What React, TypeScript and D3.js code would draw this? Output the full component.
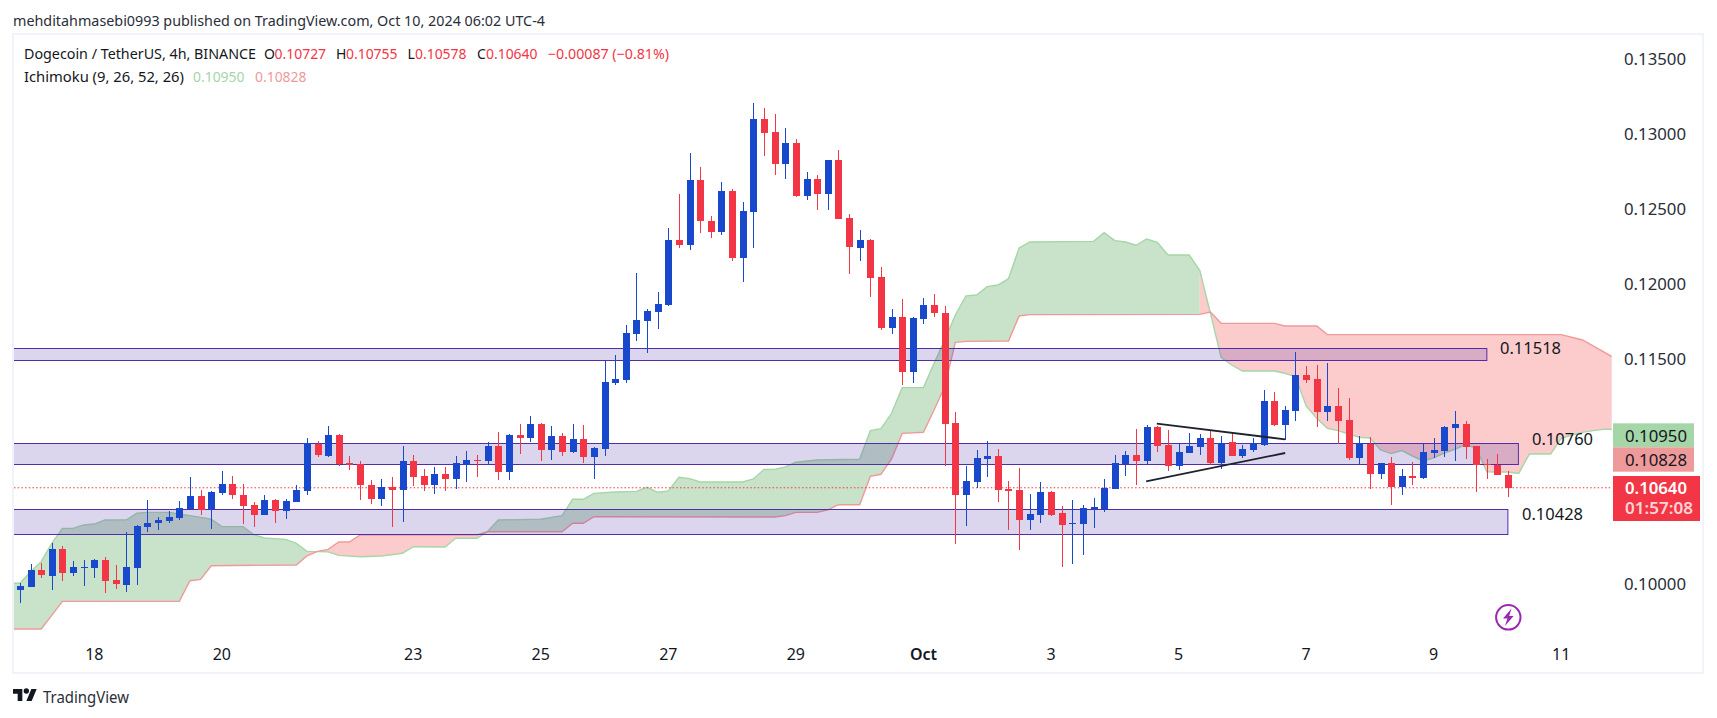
import React from "react";
import * as d3 from "d3";

// ---- candles (BINANCE DOGEUSDT, 4h) ----
const opens = [.09958,.09978,.10091,.10051,.10232,.10071,.10107,.10105,.10158,.10025,.09991,.10105,.10378,.10405,.10418,.10438,.10496,.10585,.10496,.10605,.10665,.10592,.10525,.10458,.10558,.10485,.10545,.10619,.10932,.10852,.10992,.10805,.10796,.10659,.10565,.10645,.10625,.10819,.10719,.10659,.10732,.10699,.10792,.10825,.10819,.10919,.10745,.10992,.10972,.11066,.10892,.10985,.10879,.10965,.10845,.10899,.11339,.11359,.11666,.11753,.11813,.11860,.12293,.12260,.12693,.12420,.12347,.12620,.12173,.12480,.13100,.13014,.12800,.12940,.12587,.12700,.12600,.12827,.12440,.12240,.12293,.12046,.11706,.11779,.11412,.11766,.11860,.11806,.11072,.10592,.10679,.10832,.10852,.10632,.10625,.10425,.10458,.10612,.10472,.10398,.10398,.10498,.10498,.10632,.10799,.10859,.10819,.11045,.10925,.10785,.10872,.10912,.10972,.10805,.10945,.10852,.10892,.10925,.11219,.11059,.11152,.11392,.11366,.11146,.11186,.11092,.10839,.10932,.10732,.10805,.10645,.10719,.10705,.10872,.10885,.11039,.11065,.10919,.10799,.10792,.10727];
const highs = [.10005,.10131,.10138,.10272,.10252,.10151,.10158,.10165,.10178,.10125,.10345,.10392,.10558,.10445,.10485,.10552,.10712,.10625,.10619,.10752,.10719,.10665,.10545,.10592,.10565,.10565,.10659,.10972,.10952,.11052,.10999,.10852,.10819,.10692,.10699,.10712,.10919,.10859,.10765,.10779,.10779,.10852,.10885,.10859,.10945,.11012,.10999,.11066,.11119,.11072,.11052,.11005,.11066,.11059,.10912,.11488,.11526,.11726,.12073,.11833,.11946,.12373,.12600,.12874,.12780,.12453,.12680,.12633,.12547,.13207,.13174,.13134,.13040,.12967,.12747,.12727,.12827,.12894,.12467,.12360,.12300,.12113,.11833,.11900,.11779,.11906,.11933,.11853,.11146,.10785,.10892,.10952,.10899,.10685,.10772,.10599,.10679,.10619,.10518,.10558,.10525,.10572,.10699,.10859,.10885,.11032,.11059,.11052,.11026,.10932,.11005,.10999,.11026,.10985,.11010,.10925,.10972,.11292,.11279,.11186,.11546,.11452,.11459,.11473,.11306,.11239,.10985,.10979,.10805,.10845,.10765,.10812,.10932,.10972,.11052,.11152,.11085,.10919,.10832,.10865,.10755];
const lows = [.09874,.09978,.10040,.09958,.10018,.10051,.09985,.10038,.09938,.09965,.09945,.09991,.10345,.10358,.10405,.10425,.10496,.10458,.10365,.10592,.10565,.10398,.10378,.10458,.10405,.10432,.10545,.10592,.10845,.10845,.10785,.10759,.10558,.10532,.10518,.10378,.10412,.10652,.10619,.10599,.10619,.10632,.10679,.10712,.10792,.10692,.10692,.10865,.10945,.10819,.10825,.10852,.10872,.10805,.10699,.10852,.11326,.11339,.11619,.11539,.11699,.11853,.12240,.12226,.12340,.12307,.12327,.12153,.12013,.12240,.12854,.12727,.12700,.12580,.12560,.12493,.12493,.12433,.12066,.12153,.11913,.11693,.11666,.11326,.11339,.11733,.11779,.10785,.10265,.10385,.10639,.10712,.10545,.10358,.10225,.10358,.10405,.10452,.10112,.10132,.10192,.10372,.10478,.10632,.10719,.10659,.10799,.10879,.10752,.10759,.10872,.10859,.10792,.10765,.10852,.10839,.10879,.10919,.11052,.10959,.11086,.11339,.11045,.11086,.10932,.10825,.10799,.10632,.10699,.10525,.10592,.10659,.10699,.10839,.10845,.10819,.10832,.10612,.10699,.10725,.10578];
const closes = [.09985,.10091,.10058,.10232,.10071,.10111,.10111,.10158,.10018,.09998,.10111,.10385,.10405,.10425,.10445,.10505,.10585,.10492,.10612,.10665,.10592,.10518,.10458,.10558,.10485,.10552,.10625,.10937,.10859,.10992,.10796,.10792,.10659,.10565,.10645,.10625,.10819,.10712,.10659,.10732,.10699,.10805,.10825,.10819,.10919,.10745,.10992,.10972,.11066,.10892,.10985,.10879,.10965,.10845,.10905,.11346,.11366,.11673,.11759,.11820,.11866,.12293,.12260,.12693,.12420,.12347,.12620,.12173,.12487,.13100,.13007,.12800,.12940,.12587,.12700,.12600,.12827,.12433,.12246,.12293,.12040,.11706,.11779,.11412,.11773,.11860,.11806,.11066,.10592,.10685,.10839,.10852,.10625,.10619,.10425,.10465,.10612,.10458,.10392,.10405,.10505,.10512,.10639,.10805,.10859,.10819,.11045,.10919,.10785,.10879,.10919,.10972,.10805,.10939,.10852,.10899,.10939,.11219,.11059,.11159,.11392,.11359,.11146,.11186,.11086,.10839,.10939,.10732,.10805,.10645,.10719,.10705,.10879,.10892,.11045,.11065,.10912,.10792,.10792,.10725,.10640];

// ---- Ichimoku cloud: [bar index] and leading span values ----
const spanABars = [-1,0,1,2,3,4,5,6,7,8,10,11,12,14,15,16,18,19,21,22,23,25,26,27,29,30,32,34,36,37,40,41,43,44,45,49,51,52,53,54,56,58,59,60,61,62,63,64,68,69,70,71,72,73,75,79,80,81,82,83,85,86,87,88,89,90,91,92,93,94,95,101,102,103,104,105,106,107,108,110,111,112,113,114,115,118,119,120,121,122,123,124,125,126,127,128,129,130,131,132,133,134,135,136,137,138,139,140,141,142,144,145,146,147,148,149,150];
const spanAValues = [.10003,.10003,.10080,.10147,.10269,.10369,.10369,.10392,.10398,.10425,.10425,.10470,.10476,.10476,.10465,.10454,.10430,.10381,.10381,.10327,.10305,.10296,.10269,.10216,.10212,.10189,.10180,.10185,.10203,.10247,.10245,.10303,.10303,.10348,.10425,.10430,.10454,.10563,.10563,.10603,.10612,.10616,.10643,.10610,.10619,.10710,.10701,.10679,.10679,.10699,.10763,.10763,.10779,.10810,.10825,.10830,.11021,.11034,.11137,.11308,.11308,.11470,.11626,.11793,.11920,.11926,.11982,.11993,.12035,.12240,.12280,.12284,.12342,.12289,.12280,.12258,.12300,.12278,.12193,.12193,.12089,.11804,.11510,.11459,.11419,.11419,.11404,.11381,.11186,.11103,.11037,.11021,.10999,.10977,.10972,.10892,.10868,.10888,.10852,.10819,.10839,.10872,.10897,.10928,.10903,.10747,.10745,.10745,.10736,.10865,.10865,.10970,.10992,.11010,.11021,.11030,.11030];
const spanBBars = [-1,2,3,4,15,16,17,18,26,27,28,29,30,31,32,43,44,51,52,53,54,71,72,73,75,76,77,79,80,81,82,83,85,86,87,88,89,93,94,95,111,112,113,118,119,122,123,145,147,150];
const spanBValues = [.09698,.09698,.09789,.09882,.09882,.10020,.10029,.10120,.10125,.10185,.10216,.10229,.10278,.10278,.10325,.10325,.10347,.10347,.10403,.10403,.10447,.10445,.10454,.10476,.10476,.10492,.10527,.10527,.10716,.10730,.10832,.11003,.11010,.11159,.11315,.11610,.11617,.11619,.11786,.11795,.11797,.11813,.11737,.11737,.11719,.11719,.11662,.11662,.11626,.11506];

// ---- drawn annotations ----
const bandBars = [-2, -2, -2];
const bandEnds = [138.0, 140.97, 139.98];
const bandTops = [.11571, .10937, .10496];
const bandBottoms = [.11490, .10797, .10327];
const trendBars = [[106.95, 119.03], [105.95, 119.03]];
const trendPrices = [[.11068, .10963], [.10683, .10872]];

// ---- axes ----
const priceTicks = [.135, .13, .125, .12, .115, .10];
const dateTickBars = [7, 19, 37, 49, 61, 73, 85, 97, 109, 121, 133, 145];
const dateTickLabels = ["18", "20", "23", "25", "27", "29", "Oct", "3", "5", "7", "9", "11"];
const lastPrice = .1064;

const BLUE = "#1848cc";
const RED = "#f23645";
const FONT = "'Noto Sans', sans-serif";
const INK = "#131722";

const x = d3.scaleLinear().domain([0, 140]).range([19.9, 1508.1]);
const y = d3.scaleLinear().domain([0.1, 0.135]).range([583.7, 59.1]);
const fmt = d3.format(".5f");

function Txt(p: any) {
  const { w, children, size = 14, fill = INK, anchor = "start", ...rest } = p;
  return (
    <text fontFamily={FONT} fontSize={size} fill={fill} textAnchor={anchor} dominantBaseline="central"
      textLength={w} lengthAdjust={w ? "spacingAndGlyphs" : undefined} {...rest}>
      {children}
    </text>
  );
}

export default function App() {
  const spanA = d3.scaleLinear().domain(spanABars).range(spanAValues);
  const spanB = d3.scaleLinear().domain(spanBBars).range(spanBValues);
  const bars = Array.from(new Set([...spanABars, ...spanBBars])).sort((a, b) => a - b);

  const cloudCells = d3.pairs(bars).map(([b0, b1]) => {
    const a0 = y(spanA(b0)), a1 = y(spanA(b1)), s0 = y(spanB(b0)), s1 = y(spanB(b1));
    const up = spanA(b1) >= spanB(b1);
    return { d: `M${x(b0)},${a0}L${x(b1)},${a1}L${x(b1)},${s1}L${x(b0)},${s0}Z`, up };
  });
  const cloudUp = cloudCells.filter((c) => c.up).map((c) => c.d).join("");
  const cloudDown = cloudCells.filter((c) => !c.up).map((c) => c.d).join("");
  const lineOf = (bs: number[], vs: number[]) =>
    d3.line<number>().x((b) => x(b)).y((_, i) => y(vs[i]))(bs) as string;

  return (
    <svg width={1717} height={718} style={{ position: "fixed", left: 0, top: 0, background: "#fff" }}>
      <defs>
        <clipPath id="pane"><rect x={14} y={35} width={1597.7} height={637} /></clipPath>
      </defs>

      <Txt x={13} y={20} size={14} w={532} fill="#2a2e39">mehditahmasebi0993 published on TradingView.com, Oct 10, 2024 06:02 UTC-4</Txt>

      {/* frame */}
      <rect x={13} y={34} width={1690} height={639} fill="none" stroke="#f0f3fa" strokeWidth={2} />

      <g clipPath="url(#pane)">
        <path d={cloudUp} fill="#c9e3ca" />
        <path d={cloudDown} fill="#fccccc" />
        <path d={lineOf(spanABars, spanAValues)} fill="none" stroke="#a5d6a7" strokeWidth={1.4} />
        <path d={lineOf(spanBBars, spanBValues)} fill="none" stroke="#ef9a9a" strokeWidth={1.4} />

        {bandTops.map((t, i) => (
          <rect key={i} x={x(bandBars[i])} y={Math.round(y(t)) + 0.5}
            width={x(bandEnds[i]) - x(bandBars[i])} height={Math.round(y(bandBottoms[i]) - y(t))}
            fill="rgba(81,45,168,0.2)" stroke="#512da8" strokeWidth={1} />
        ))}
      </g>

      <line x1={14} x2={1611} y1={y(lastPrice)} y2={y(lastPrice)} stroke={RED} strokeWidth={1} strokeDasharray="1.5 2.2" />

      <g shapeRendering="crispEdges">
        {opens.map((o, i) => {
          const c = closes[i];
          const col = c >= o ? BLUE : RED;
          const cx = Math.round(x(i));
          const top = Math.round(y(Math.max(o, c)));
          const bottom = Math.round(y(Math.min(o, c)));
          const hi = Math.round(y(highs[i]));
          const lo = Math.round(y(lows[i]));
          return (
            <g key={i} fill={col}>
              <rect x={cx} y={hi} width={1} height={Math.max(1, lo - hi)} />
              <rect x={cx - 3} y={top} width={7} height={Math.max(1, bottom - top)} />
            </g>
          );
        })}
      </g>

      {trendBars.map((b, i) => (
        <line key={i} x1={x(b[0])} y1={y(trendPrices[i][0])} x2={x(b[1])} y2={y(trendPrices[i][1])}
          stroke="#1e222d" strokeWidth={1.8} />
      ))}

      {/* legend */}
      <Txt x={24} y={53} w={232}>Dogecoin / TetherUS, 4h, BINANCE</Txt>
      <Txt x={264} y={53}>O</Txt>
      <Txt x={274.6} y={53} w={51.5} fill={RED}>0.10727</Txt>
      <Txt x={336} y={53}>H</Txt>
      <Txt x={346} y={53} w={51.5} fill={RED}>0.10755</Txt>
      <Txt x={407.6} y={53}>L</Txt>
      <Txt x={415} y={53} w={51.5} fill={RED}>0.10578</Txt>
      <Txt x={477} y={53}>C</Txt>
      <Txt x={486} y={53} w={51.5} fill={RED}>0.10640</Txt>
      <Txt x={548} y={53} w={121} fill={RED}>−0.00087 (−0.81%)</Txt>
      <Txt x={24} y={76} w={160}>Ichimoku (9, 26, 52, 26)</Txt>
      <Txt x={193} y={76} w={51.5} fill="#a5d6a7">0.10950</Txt>
      <Txt x={255} y={76} w={51.5} fill="#ef9a9a">0.10828</Txt>

      {/* band labels */}
      <Txt x={1500} y={347.5} size={16} w={61}>0.11518</Txt>
      <Txt x={1532} y={438.5} size={16} w={61}>0.10760</Txt>
      <Txt x={1522} y={513.5} size={16} w={61}>0.10428</Txt>

      {/* price axis */}
      {priceTicks.map((t) => (
        <Txt key={t} x={1624} y={y(t)} size={16} w={62} fill="#2a2e39">{fmt(t)}</Txt>
      ))}
      <rect x={1613} y={423.3} width={81} height={24} fill="#a5d6a7" />
      <Txt x={1625} y={435.5} size={16} w={62}>0.10950</Txt>
      <rect x={1613} y={447.3} width={81} height={24.4} fill="#ef9a9a" />
      <Txt x={1625} y={459.5} size={16} w={62}>0.10828</Txt>
      <rect x={1613} y={476} width={87} height={45} fill={RED} />
      <Txt x={1625} y={488} size={16} w={62} fill="#fff" fontWeight={600}>0.10640</Txt>
      <Txt x={1625} y={508} size={16} w={68} fill="#fff" fillOpacity={0.8} fontWeight={600}>01:57:08</Txt>

      {/* time axis */}
      {dateTickBars.map((b, i) => (
        <Txt key={b} x={x(b)} y={653.5} size={16} anchor="middle" fontWeight={dateTickLabels[i] === "Oct" ? 600 : 400}>
          {dateTickLabels[i]}
        </Txt>
      ))}

      {/* flash icon */}
      <circle cx={1508.3} cy={617.3} r={12.2} fill="none" stroke="#9c27b0" strokeWidth={2} />
      <path d="M1511.5,608.5L1503,618.6h4.4L1505,626l8.6,-10h-4.4z" fill="#9c27b0" />

      {/* logo */}
      <g transform="translate(13 686.3) scale(0.667)" fill="#131722">
        <path d="M14 22H7V11H0V4h14v18zM28 22h-8l7.5-18h8L28 22z" />
        <circle cx="20" cy="7" r="4" />
      </g>
      <Txt x={43} y={697} size={16} w={86} fill="#2a2e39">TradingView</Txt>
    </svg>
  );
}
